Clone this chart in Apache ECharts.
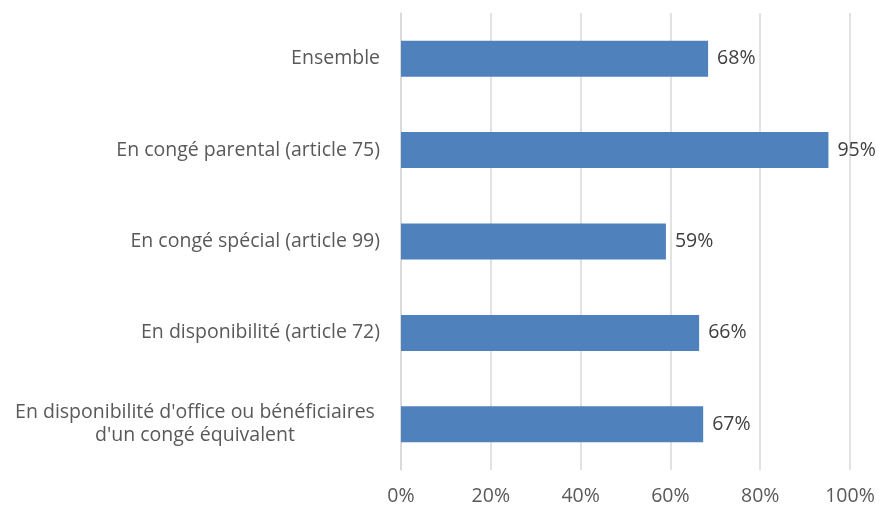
<!DOCTYPE html>
<html>
<head>
<meta charset="UTF-8">
<title>Chart</title>
<script src="https://cdn.jsdelivr.net/npm/echarts@6/dist/echarts.min.js"></script>
<style>
body { margin: 0; padding: 0; background: #fff; }
#main { width: 879px; height: 508px; }
</style>
</head>
<body>
<div id="main"></div>
<script>
// top to bottom order as in the picture
var categories = [
    "Ensemble",
    "En congé parental (article 75)",
    "En congé spécial (article 99)",
    "En disponibilité (article 72)",
    "En disponibilité d'office ou bénéficiaires\nd'un congé équivalent"
];
var values = [68.4, 95.2, 59.0, 66.4, 67.3];
var labels = ["68%", "95%", "59%", "66%", "67%"];

var FONT = "Open Sans";
var FS = 19.5;
var myChart = echarts.init(document.getElementById('main'));
var option = {
    animation: false,
    textStyle: { fontFamily: FONT },
    grid: { left: 401, right: 29, top: 13, bottom: 38, containLabel: false },
    xAxis: {
        type: 'value',
        min: 0, max: 100, interval: 20,
        axisLine: { show: false },
        axisTick: { show: false },
        splitLine: { lineStyle: { color: '#d9d9d9', width: 1.5 } },
        axisLabel: {
            color: '#595959', fontSize: FS, margin: 16, fontFamily: FONT,
            formatter: function (v) { return v + '%'; }
        }
    },
    yAxis: {
        type: 'category',
        inverse: true,
        data: categories,
        axisLine: { lineStyle: { color: '#d9d9d9', width: 1.5 } },
        axisTick: { show: false },
        axisLabel: {
            color: '#595959', fontSize: FS, margin: 21, fontFamily: FONT, lineHeight: 23,
            formatter: function (v) {
                if (v.indexOf('\n') < 0) return v;
                return v.split('\n').map(function (s) { return '{c|' + s + '}'; }).join('\n');
            },
            rich: {
                c: { width: 370, align: 'center', fontSize: FS, lineHeight: 23, color: '#595959', fontFamily: FONT }
            }
        }
    },
    series: [{
        type: 'bar',
        data: values,
        barWidth: 36,
        itemStyle: { color: '#4f81bd' },
        label: {
            show: true,
            position: 'right',
            distance: 9,
            color: '#404040',
            fontSize: FS,
            fontFamily: FONT,
            formatter: function (p) { return labels[p.dataIndex]; }
        }
    }]
};
myChart.setOption(option);
</script>
</body>
</html>
